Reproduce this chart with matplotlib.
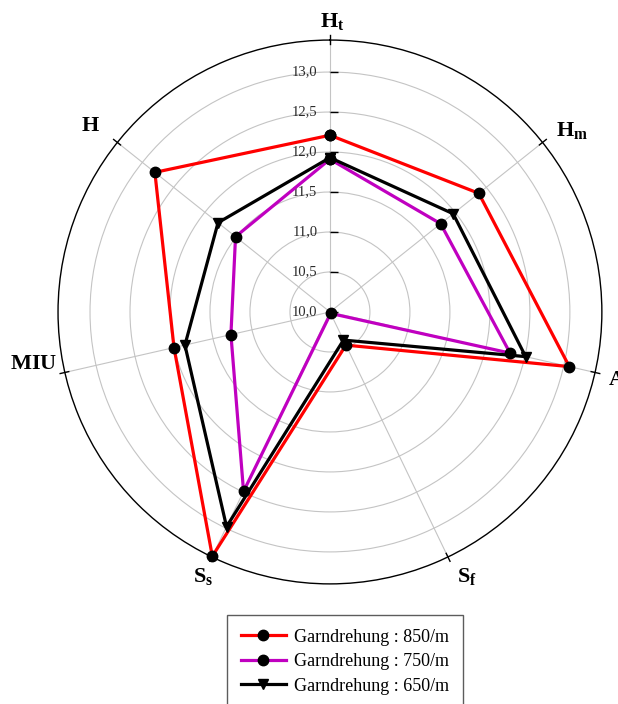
import numpy as np
import matplotlib
matplotlib.use("Agg")
import matplotlib.pyplot as plt

plt.rcParams['font.family'] = ['Liberation Serif', 'DejaVu Serif']
plt.rcParams['mathtext.fontset'] = 'custom'
plt.rcParams['mathtext.rm'] = 'Liberation Serif:weight=bold'
plt.rcParams['mathtext.bf'] = 'Liberation Serif:weight=bold'
plt.rcParams['mathtext.it'] = 'Liberation Serif:weight=bold'

# axes, clockwise from top
labels = [r'$\mathbf{H_t}$', r'$\mathbf{H_m}$', r'$\mathbf{A}$', r'$\mathbf{S_f}$',
          r'$\mathbf{S_s}$', r'$\mathbf{MIU}$', r'$\mathbf{H}$']
# where each axis name sits relative to the rim tick (pixels, y up)
label_off = [(2, 19), (30, 12), (22, -8), (19, -20), (-9, -20), (-31, 8), (-27, 16)]

rticks = [10.0, 10.5, 11.0, 11.5, 12.0, 12.5, 13.0]
rtick_labels = ['10,0', '10,5', '11,0', '11,5', '12,0', '12,5', '13,0']

v850 = [12.21, 12.38, 13.07, 10.46, 13.39, 12.00, 12.80]
v750 = [11.91, 11.77, 12.31, 10.02, 12.49, 11.27, 11.51]
v650 = [11.93, 11.97, 12.51, 10.39, 12.98, 11.86, 11.79]

rmin, rmax = 10.0, 13.4

n = len(labels)
ang = np.arange(n) * 2 * np.pi / n
ang_c = np.append(ang, ang[0])

fig = plt.figure(figsize=(6.18, 7.04), dpi=100)
ax = fig.add_axes([0.0939, 0.1705, 0.880, 0.7727], projection='polar')
ax.set_theta_offset(np.pi / 2)
ax.set_theta_direction(-1)
ax.set_ylim(rmin, rmax)

# grid
ax.set_rgrids(rticks[1:], labels=[''] * (len(rticks) - 1))
ax.set_thetagrids(np.degrees(ang), labels=[''] * n)
ax.grid(True, color='#c4c4c4', linewidth=0.8)
ax.spines['polar'].set_color('black')
ax.spines['polar'].set_linewidth(1.0)
ax.tick_params(axis='both', length=0)

# small black ticks across the rim
for a in ang:
    ax.plot([a, a], [rmax - 0.05, rmax + 0.06], color='black', lw=1, clip_on=False)

# radial tick labels along the top axis
ax.plot([0] * len(rticks), rticks, linestyle='none', marker=1, markersize=6,
        color='black', mew=1, clip_on=False, zorder=5)
for v, t in zip(rticks, rtick_labels):
    ax.annotate(t, xy=(0, v), xytext=(-9, 0), textcoords='offset points',
                ha='right', va='center', fontsize=10.5, color='#2a2a2a')

# axis names
for a, lab, (dx, dy) in zip(ang, labels, label_off):
    ax.annotate(lab, xy=(a, rmax), xytext=(dx * 0.72, dy * 0.72),
                textcoords='offset points', ha='center', va='center',
                fontsize=16, annotation_clip=False)

ax.plot(ang_c, v850 + v850[:1], color='#ff0000', lw=2.3, marker='o', ms=7.5,
        mfc='black', mec='black', label='Garndrehung : 850/m', clip_on=False, zorder=3)
ax.plot(ang_c, v750 + v750[:1], color='#c000c0', lw=2.3, marker='o', ms=7.5,
        mfc='black', mec='black', label='Garndrehung : 750/m', clip_on=False, zorder=3)
ax.plot(ang_c, v650 + v650[:1], color='black', lw=2.3, marker='v', ms=7.5,
        mfc='black', mec='black', label='Garndrehung : 650/m', clip_on=False, zorder=3)

leg = fig.legend(loc='upper center', bbox_to_anchor=(345 / 618, 1 - 615 / 704),
                 fontsize=13, frameon=True, fancybox=False, edgecolor='#333333',
                 handlelength=2.5, handletextpad=0.45, borderpad=0.75,
                 labelspacing=0.42, borderaxespad=0)
leg.get_frame().set_linewidth(1.0)

fig.savefig('out.png', dpi=100)
